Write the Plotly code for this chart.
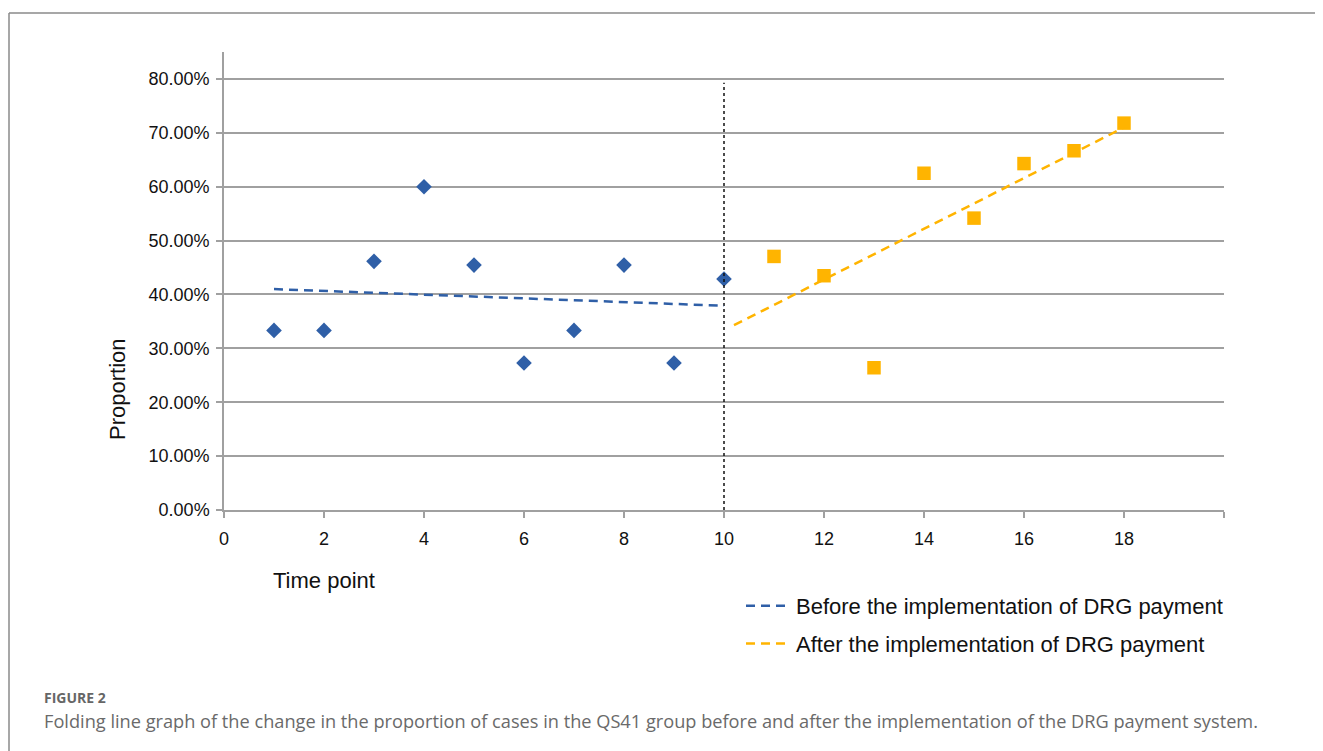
import plotly.graph_objects as go

# ---- data ----
before_x = [1, 2, 3, 4, 5, 6, 7, 8, 9, 10]
before_y = [0.3333, 0.3333, 0.4615, 0.6000, 0.4545, 0.2727, 0.3333, 0.4545, 0.2727, 0.4286]
after_x = [11, 12, 13, 14, 15, 16, 17, 18]
after_y = [0.4706, 0.4348, 0.2640, 0.6250, 0.5417, 0.6429, 0.6667, 0.7180]

before_trend_x = [1, 10]
before_trend_y = [0.410, 0.379]
after_trend_x = [10.2, 18]
after_trend_y = [0.343, 0.710]

cut_x = [10, 10]
cut_y = [0, 0.793]

x_tickvals = [0, 2, 4, 6, 8, 10, 12, 14, 16, 18, 20]
x_ticktext = ["0", "2", "4", "6", "8", "10", "12", "14", "16", "18", ""]
y_tickvals = [0, 0.1, 0.2, 0.3, 0.4, 0.5, 0.6, 0.7, 0.8]
y_ticktext = ["0.00%", "10.00%", "20.00%", "30.00%", "40.00%", "50.00%", "60.00%", "70.00%", "80.00%"]

legend_names = ["Before the implementation of DRG payment", "After the implementation of DRG payment"]
caption_label = "FIGURE 2"
caption_text = ("Folding line graph of the change in the proportion of cases in the QS41 group "
                "before and after the implementation of the DRG payment system.")

BLUE = "#2f5fa7"
ORANGE = "#ffb400"
GRID = "#a0a0a0"
FONT = "Liberation Sans, Arial, sans-serif"

OFF = 8  # page body margin
W, H = 1323, 751
# target plot box in page pixels: x 224..1224, y 52..510
L, T = 224 - OFF, 52 - OFF
PW, PH = 1000, 458
R = W - L - PW
B = H - T - PH


def px(xp):
    return (xp - OFF - L) / PW


def py(yp):
    return (T + PH - (yp - OFF)) / PH


fig = go.Figure()

fig.add_trace(go.Scatter(x=before_x, y=before_y, mode="markers",
                         marker=dict(symbol="diamond", size=12, color=BLUE),
                         showlegend=False, hoverinfo="skip"))
fig.add_trace(go.Scatter(x=after_x, y=after_y, mode="markers",
                         marker=dict(symbol="square", size=13.5, color=ORANGE),
                         showlegend=False, hoverinfo="skip"))
fig.add_trace(go.Scatter(x=cut_x, y=cut_y, mode="lines",
                         line=dict(color="#111111", width=1.5, dash="dot"),
                         showlegend=False, hoverinfo="skip"))
fig.add_trace(go.Scatter(x=before_trend_x, y=before_trend_y, mode="lines",
                         line=dict(color=BLUE, width=2.5, dash="9px,6px"),
                         name=legend_names[0], legendgroup="a"))
fig.add_trace(go.Scatter(x=after_trend_x, y=after_trend_y, mode="lines",
                         line=dict(color=ORANGE, width=2.5, dash="9px,6px"),
                         name=legend_names[1], legendgroup="b"))

frame = "#8a8a8a"
fig.add_shape(type="line", xref="paper", yref="paper",
              x0=px(9), x1=px(1345), y0=py(13), y1=py(13),
              line=dict(color=frame, width=1.5))
fig.add_shape(type="line", xref="paper", yref="paper",
              x0=px(9), x1=px(9), y0=py(13), y1=py(775),
              line=dict(color=frame, width=1.5))

annotations = [
    dict(text="Proportion", x=px(117), y=py(389), xref="paper", yref="paper",
         xanchor="center", yanchor="middle",
         textangle=-90, showarrow=False, font=dict(family=FONT, size=22, color="#111")),
    dict(text="Time point", x=px(324), y=py(580), xref="paper", yref="paper",
         xanchor="center", yanchor="middle",
         showarrow=False, font=dict(family=FONT, size=22, color="#111")),
    dict(text="<b>" + caption_label + "</b>", x=px(42), y=py(697), xref="paper", yref="paper",
         xanchor="left", yanchor="middle", showarrow=False,
         font=dict(family="Open Sans, sans-serif", size=14, color="#666666")),
    dict(text=caption_text, x=px(42), y=py(721), xref="paper", yref="paper",
         xanchor="left", yanchor="middle", showarrow=False,
         font=dict(family="Open Sans, sans-serif", size=18.2, color="#6a6a6a")),
]

fig.update_layout(
    width=W, height=H,
    margin=dict(l=L, r=R, t=T, b=B, pad=0),
    paper_bgcolor="white", plot_bgcolor="white",
    font=dict(family=FONT, color="#111"),
    showlegend=True,
    legend=dict(x=px(741), y=py(585), xanchor="left", yanchor="top",
                font=dict(family=FONT, size=22, color="#111"),
                traceorder="grouped", tracegroupgap=6,
                bgcolor="rgba(0,0,0,0)", itemwidth=45),
    annotations=annotations,
    xaxis=dict(range=[0, 20], tickvals=x_tickvals, ticktext=x_ticktext,
               showgrid=False, zeroline=False, showline=True, linecolor=GRID, linewidth=1.5,
               ticks="outside", ticklen=6, tickcolor=GRID, tickwidth=1.5,
               tickfont=dict(family=FONT, size=18, color="#111"), ticklabelstandoff=6),
    yaxis=dict(range=[0, 0.85], tickvals=y_tickvals, ticktext=y_ticktext,
               showgrid=True, gridcolor=GRID, gridwidth=1.5, zeroline=False,
               showline=True, linecolor=GRID, linewidth=1.5,
               ticks="outside", ticklen=6, tickcolor=GRID, tickwidth=1.5,
               tickfont=dict(family=FONT, size=18, color="#111"), ticklabelstandoff=3),
)

fig.write_html("out.html")
